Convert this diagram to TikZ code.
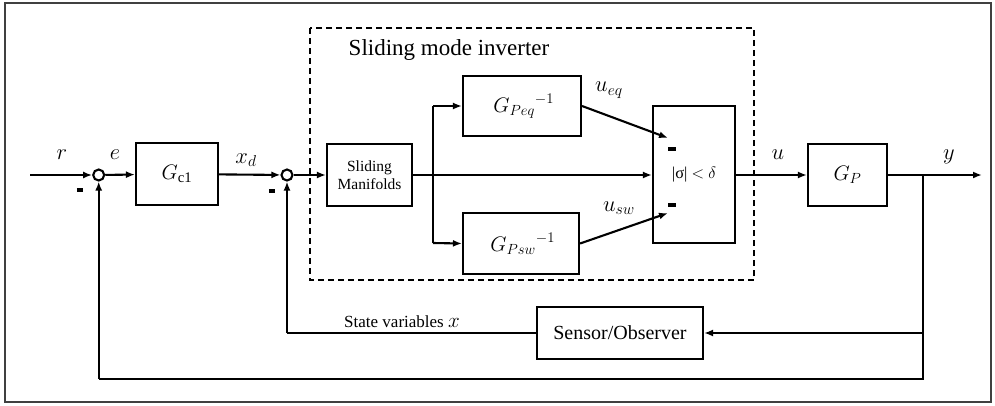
\RequirePackage{fix-cm}
\documentclass[tikz,border=0pt]{standalone}
\usepackage{fontspec}
\setmainfont{Liberation Serif}
\usetikzlibrary{arrows.meta}
\tikzset{
  blk/.style={draw, line width=2.1pt, inner sep=0pt, anchor=center},
  sumc/.style={draw, circle, line width=2.1pt, minimum size=11pt, inner sep=0pt},
  wire/.style={line width=2.1pt},
  arr/.style={line width=2.1pt, -{Latex[length=9pt,width=7pt]}},
  mlab/.style={font=\fontsize{22.5}{26}\selectfont, inner sep=0pt},
  minus/.style={inner sep=0pt, minimum width=0pt}
}
\newcommand{\mrule}[1]{\rule{#1}{3.4pt}}
\begin{document}
\begin{tikzpicture}[x=1pt,y=-1pt]
\useasboundingbox (0,0) rectangle (995,405);
\draw[line width=1.8pt, black!75] (5,3) rectangle (991,402);
% dashed group
\draw[line width=1.4pt, dash pattern=on 6pt off 4pt] (310,28) rectangle (754,280);
\node[font=\fontsize{23}{26}\selectfont, inner sep=0pt] (title) at (449,50) {Sliding mode inverter};
% blocks
\node[sumc] (s1) at (98.7,175) {};
\node[sumc] (s2) at (287,175) {};
\node[blk, minimum width=82pt, minimum height=62pt] (gc1) at (177,174) {\fontsize{21}{24}\selectfont $G_{\mathrm{c1}}$};
\node[blk, minimum width=85pt, minimum height=62pt, align=center, font=\fontsize{15.5}{18}\selectfont] (sm) at (369.5,175) {Sliding\\Manifolds};
\node[blk, minimum width=118pt, minimum height=60pt] (gpeq) at (522,106) {\fontsize{21}{24}\selectfont $\,{G_{Peq}}^{-1}$};
\node[blk, minimum width=116pt, minimum height=61pt] (gpsw) at (521,243.5) {\fontsize{21}{24}\selectfont $\,{G_{Psw}}^{-1}$};
\node[blk, minimum width=82pt, minimum height=137pt] (sig) at (694,174.5) {};
\node[inner sep=0pt, font=\fontsize{16.5}{18}\selectfont] (sigt) at (694,175) {|σ| $<$ $\delta$};
\node[blk, minimum width=79pt, minimum height=62pt] (gp) at (847.5,175) {\fontsize{21}{24}\selectfont $G_P$};
\node[blk, minimum width=166pt, minimum height=52pt, font=\fontsize{20}{24}\selectfont] (sens) at (620,333) {Sensor/Observer};
% minus signs
\node[minus] (m1) at (80,190) {\mrule{6.5pt}};
\node[minus] (m2) at (272,191) {\mrule{6.5pt}};
\node[minus] (m3) at (672,149) {\mrule{8pt}};
\node[minus] (m4) at (672,205) {\mrule{8pt}};
% labels
\node[mlab] (lr) at (62,155) {$r$};
\node[mlab] (le) at (115,155) {$e$};
\node[mlab] (lxd) at (246,160) {$x_d$};
\node[mlab] (lueq) at (609,90) {$u_{eq}$};
\node[mlab] (lusw) at (619,208) {$u_{sw}$};
\node[mlab] (lu) at (778,155) {$u$};
\node[mlab] (ly) at (949,157) {$y$};
\node[inner sep=0pt, font=\fontsize{17}{20}\selectfont] (lsv) at (402,322) {State variables \fontsize{21}{24}\selectfont$x$};
% coordinates
\coordinate (rin) at (30,175);
\coordinate (bt) at (433,106);
\coordinate (bm) at (433,175);
\coordinate (bb) at (433,243);
\coordinate (teq) at (668,138);
\coordinate (tsw) at (668,213);
\coordinate (yout) at (982,175);
\coordinate (yb) at (923,175);
\coordinate (ys) at (923,333);
\coordinate (ybot) at (923,379);
\coordinate (lbot) at (98.7,379);
\coordinate (sl) at (287,333);
% connectors
\draw[arr] (rin) -- (s1);
\draw[arr] (s1) -- (gc1);
\draw[arr] (gc1) -- (s2);
\draw[arr] (s2) -- (sm);
\draw[arr] (sm.east) -- (sig.west |- sm.east);
\draw[wire] (bt) -- (bb);
\draw[arr] (bt) -- (gpeq.west);
\draw[arr] (bb) -- (gpsw.west);
\draw[arr] (gpeq.east) -- (teq);
\draw[arr] (gpsw.east) -- (tsw);
\draw[arr] (sig.east |- gp.west) -- (gp.west);
\draw[arr] (gp.east) -- (yout);
\draw[wire] (yb) -- (ybot) -- (lbot);
\draw[arr] (lbot) -- (s1.south);
\draw[arr] (ys) -- (sens.east);
\draw[wire] (sens.west) -- (sl);
\draw[arr] (sl) -- (s2.south);
\end{tikzpicture}
\end{document}
